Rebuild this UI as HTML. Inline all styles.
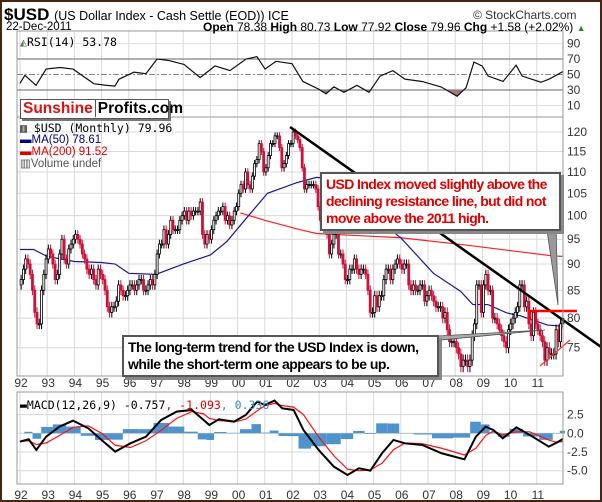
<!DOCTYPE html>
<html><head><meta charset="utf-8">
<style>
body{margin:0;padding:0;background:#fff;}
#wrap{position:relative;width:598px;height:498px;border:2px solid #4a2410;background:#fff;overflow:hidden;font-family:"Liberation Sans",sans-serif;}
svg{position:absolute;left:-2px;top:-2px;}
.txt{position:absolute;white-space:nowrap;}
.callout{position:absolute;background:#fff;border:2px solid #555;box-shadow:3px 3px 0 #888;font-weight:bold;font-size:14px;line-height:17px;padding:2px 4px;white-space:nowrap;letter-spacing:-0.6px;}
</style></head>
<body>
<div id="wrap">
<svg id="chart" width="602" height="502" xmlns="http://www.w3.org/2000/svg"></svg>
<div class="txt" style="left:2px;top:3px;font-size:17px;font-weight:bold;">$USD <span style="font-size:12.5px;font-weight:normal">(US Dollar Index - Cash Settle (EOD)) ICE</span></div>
<div class="txt" style="left:471px;top:6px;font-size:12px;color:#333">© StockCharts.com</div>
<div class="txt" style="left:4px;top:19px;font-size:11.5px">22-Dec-2011</div>
<div class="txt" style="left:201px;top:18px;font-size:12px"><b>Open</b> 78.38 <b>High</b> 80.73 <b>Low</b> 77.92 <b>Close</b> 79.96 <b>Chg</b> +1.58 (+2.02%) <span style="color:#2a8a2a;font-size:9px">▲</span></div>
<div class="txt" style="left:18px;top:33px;font-size:11.5px;font-family:'DejaVu Sans Mono',monospace"><span style="color:#4a7a4a">◭</span>RSI(14) 53.78</div>
<div class="txt" style="left:18px;top:97px;width:147px;height:18px;border:1px solid #555;box-shadow:2px 2px 0 #777;background:#fff;font-weight:bold;font-size:15.5px;line-height:18px"><span style="color:#e01010;padding-left:2px">Sunshine</span><span style="border-left:1px solid #555;padding-left:2px;margin-left:2px">Profits.com</span></div>
<div class="txt" style="left:18px;top:121px;font-size:11.5px;line-height:11px;font-family:'DejaVu Sans Mono',monospace">▥ $USD (Monthly) 79.96<br><span style="color:#000080;font-family:'Liberation Sans',sans-serif">▬MA(50) 78.61</span><br><span style="color:#e00000;font-family:'Liberation Sans',sans-serif">▬MA(200) 91.52</span><br><span style="color:#555;font-family:'Liberation Sans',sans-serif">▥Volume undef</span></div>
<div class="callout" style="left:318px;top:170px;width:229px;color:#e00000">USD Index moved slightly above the<br>declining resistance line, but did not<br>move above the 2011 high.</div>
<div class="callout" style="left:120px;top:333px;width:305px;color:#000;letter-spacing:-0.5px">The long-term trend for the USD Index is down,<br>while the short-term one appears to be up.</div>
<div class="txt" style="left:18px;top:396px;font-size:11.5px;font-family:'DejaVu Sans Mono',monospace">▬MACD(12,26,9) -0.757<span style="color:#e00000">, -1.093</span><span style="color:#3a8ac8">, 0.336</span></div>
</div>
<script>
// ---- data ----
const closes1992 = [87,89,91,90,88,85,81,79,79,85,88,91];
const closes1993 = [93,92,90,87,88,92,95,91,90,93,94,95];
const closes1994 = [96,95,94,92,91,89,88,89,87,86,89,88];
const closes1995 = [87,85,82,81,82,82,83,86,85,84,84,85];
const closes1996 = [86,86,85,86,87,87,85,85,86,87,86,88];
const closes1997 = [92,94,94,97,94,96,99,97,97,97,99,100];
const closes1998 = [101,99,101,100,101,101,101,103,96,94,96,95];
const closes1999 = [97,99,100,101,101,102,99,100,98,99,101,102];
const closes2000 = [105,107,106,110,107,106,109,112,113,117,115,110];
const closes2001 = [111,114,117,117,119,119,116,111,112,114,117,117];
const closes2002 = [120,119,118,116,111,106,107,107,107,107,106,102];
const closes2003 = [99,100,99,96,92,94,96,97,92,92,90,87];
const closes2004 = [87,89,89,91,89,88,89,89,88,85,81,81];
const closes2005 = [84,82,84,84,87,89,89,87,89,90,91,90];
const closes2006 = [89,90,90,86,85,86,85,85,86,86,83,84];
const closes2007 = [85,84,83,82,82,82,80,81,78,76,76,76];
const closes2008 = [75,74,72,73,73,72,73,77,79,86,86,81];
const closes2009 = [86,88,85,85,80,80,79,78,77,76,75,78];
const closes2010 = [79,80,81,82,86,86,82,83,79,77,81,79];
const closes2011 = [78,77,76,73,75,74,74,74,78,76,79,79.96];
const ma50Dates = [1992,1992.5,1993,1994,1995,1995.5,1996,1997,1998,1999,1999.6,2000.4,2001.1,2002.2,2002.9,2003.3,2004,2005,2005.5,2006,2007.2,2008.2,2008.65,2009.2,2009.9,2010.4,2011.4,2011.96];
const ma50Vals = [92.9,92.9,91.5,90.5,90.3,90.0,88.2,88.0,90.0,91.8,94.5,100,105,107.5,108.7,108.5,104,100,97.5,95.3,88.2,84.8,82.4,82.4,80.9,80.4,78.8,78.61];
const ma200Dates = [2000.1,2001.0,2002.3,2002.9,2006.0,2008.4,2011.6,2011.96];
const ma200Vals = [100.6,99.0,97.0,96.2,95.3,93.8,91.6,91.52];
const rsiDates = [1992,1992.18,1992.59,1992.96,1993.47,1993.95,1994.72,1995.2,1995.49,1995.64,1996.19,1996.63,1997.04,1997.48,1998.03,1998.62,1999.17,1999.72,2000.31,2000.71,2001.01,2001.41,2002.0,2002.4,2002.99,2003.25,2003.54,2003.91,2004.39,2004.83,2005.24,2005.71,2006.15,2006.78,2007.48,2008.07,2008.4,2008.69,2008.99,2009.21,2009.76,2010.24,2010.46,2011.15,2011.45,2011.96];
const rsiVals = [38.6,49,36,57,59,57,38,36,35,44,53,51,70,68,63,46,61,55,70,73,57,67,64,41,31,25,34,27,36,27,48,55,44,41,34,22,33,66,61,48,41,62,48,40,44,53.78];
const macdDates = [1992.0,1992.32,1992.6,1992.96,1993.45,1993.95,1994.51,1995.0,1995.5,1996.06,1996.63,1997.19,1997.76,1998.32,1998.75,1998.96,1999.31,1999.87,2000.3,2000.72,2001.0,2001.36,2001.64,2002.06,2002.42,2002.98,2003.54,2004.04,2004.46,2004.88,2005.31,2005.73,2006.15,2006.79,2007.5,2008.34,2008.76,2009.12,2009.4,2009.75,2010.25,2010.74,2011.44,2011.73,2011.96];
const macdVals = [-1.11,-0.8,-2.23,-0.45,0.89,1.69,0.67,-0.89,-2.45,-1.34,-0.45,1.78,2.9,3.12,1.78,1.11,1.87,1.56,2.45,4.23,3.79,4.37,3.34,3.12,0.45,-2.23,-4.46,-5.57,-4.68,-4.99,-2.67,-0.89,-1.34,-1.56,-2.67,-3.48,-0.45,0.89,0.45,-0.67,0.8,-0.22,-1.78,-1.25,-0.757];
const signalVals = [-1.1,-1.0,-1.5,-1.3,-0.3,0.8,1.0,0.0,-1.6,-1.9,-1.0,0.4,2.0,2.9,2.6,2.0,1.7,1.5,1.9,3.0,3.7,4.0,3.7,3.5,2.5,-0.5,-3.0,-4.8,-5.0,-4.9,-4.0,-2.2,-1.3,-1.4,-2.0,-2.9,-2.0,-0.3,0.3,-0.2,0.2,0.2,-0.9,-1.2,-1.093];
const yearLabels = ['92','93','94','95','96','97','98','99','00','01','02','03','04','05','06','07','08','09','10','11'];
const priceTicks = [120,115,110,105,100,95,90,85,80,75];
const rsiTicks = [90,70,50,30,10];
const macdTicks = [2.5,0,-2.5,-5];
const macdTickLabels = ['2.5','0.0','-2.5','-5.0'];

// ---- scales ----
const L=17, R=563;
const X = t => 20 + (t-1992)*27.2;
const PY = p => 132 + 459*Math.log(120/p);
const RY = v => 43.5 + (90-v)*0.775;
const MY = v => 433.3 - v*7.48;
const NS='http://www.w3.org/2000/svg';
const svg=document.getElementById('chart');
function mk(tag,attrs,parent){const e=document.createElementNS(NS,tag);for(const k in attrs)e.setAttribute(k,attrs[k]);(parent||svg).appendChild(e);return e;}
function txt(x,y,s,size,anchor,fill){const e=mk('text',{x:x,y:y,'font-size':size,'text-anchor':anchor||'start',fill:fill||'#333','font-family':'Liberation Sans, sans-serif'});e.textContent=s;return e;}

const panels=[[31,117],[117,376],[392,484]];
panels.forEach((p,pi)=>{
  for(let y=1992;y<=2011;y++){const l=mk('line',{x1:X(y),x2:X(y),y1:p[0],y2:p[1],stroke:'#d8d8d8','stroke-width':1});
  
  }
});
priceTicks.forEach(v=>{const l=mk('line',{x1:L,x2:R,y1:PY(v),y2:PY(v),stroke:'#d8d8d8'});
 
 
 const t=txt(567,PY(v)+4,String(v),12);
 
 });
rsiTicks.forEach(v=>{
 const strong=(v===70||v===30);
 const l=mk('line',{x1:L,x2:R,y1:RY(v),y2:RY(v),stroke:strong?'#666':(v===50?'#888':'#e0e0e0'),'stroke-dasharray':v===50?'6,2,2,2':'none'});
 
 
 const t=txt(567,RY(v)+4,String(v),12);
 
 });
macdTicks.forEach((v,i)=>{const l=mk('line',{x1:L,x2:R,y1:MY(v),y2:MY(v),stroke:'#d8d8d8'});
 
 
 const t=txt(567,MY(v)+4,macdTickLabels[i],12);
 
 });
yearLabels.forEach((s,i)=>{[383,495].forEach(y=>{const t=txt(X(1992+i)+1,y+4,s,12,'middle');
 
 });});

// RSI
const rsiPts=rsiDates.map((d,i)=>X(d)+','+RY(rsiVals[i])).join(' ');
const cp=mk('clipPath',{id:'below30'});mk('rect',{x:L,y:RY(30),width:R-L,height:40},cp);
const rf=mk('polygon',{points:rsiPts+' '+X(2011.96)+','+RY(30)+' '+X(1992)+','+RY(30),fill:'#a07878','clip-path':'url(#below30)'});


const rl=mk('polyline',{points:rsiPts,fill:'none',stroke:'#111','stroke-width':1.2});



// MAs
const m200=mk('polyline',{points:ma200Dates.map((d,i)=>X(d)+','+PY(ma200Vals[i])).join(' '),fill:'none',stroke:'#ff2020','stroke-width':1.2});


const m50=mk('polyline',{points:ma50Dates.map((d,i)=>X(d)+','+PY(ma50Vals[i])).join(' '),fill:'none',stroke:'#1a1a9a','stroke-width':1.2});



// candles
const closes=[].concat(closes1992,closes1993,closes1994,closes1995,closes1996,closes1997,closes1998,closes1999,closes2000,closes2001,closes2002,closes2003,closes2004,closes2005,closes2006,closes2007,closes2008,closes2009,closes2010,closes2011);
closes.forEach((c,i)=>{
 const o=i?closes[i-1]:c-1;
 const up=c>=o;
 const hi=Math.max(o,c)+0.9, lo=Math.min(o,c)-0.9;
 const x=X(1992+(i+0.5)/12);
 const col=up?'#000':'#d0103a';
 const w=mk('line',{x1:x,x2:x,y1:PY(hi),y2:PY(lo),stroke:col,'stroke-width':1});
 
 
 const top=PY(Math.max(o,c)),bot=PY(Math.min(o,c));
 const b=mk('rect',{x:x-1,y:top,width:2,height:Math.max(1,bot-top),fill:up?'#fff':col,stroke:col,'stroke-width':0.8});
 
 
});

// annotations
const tl=mk('line',{x1:290,y1:127,x2:604,y2:349,stroke:'#000','stroke-width':2.5});


const hl=mk('polyline',{points:'530,320 530,311 577,311',fill:'none',stroke:'#ff0000','stroke-width':2.5});


const sl=mk('line',{x1:540,y1:366,x2:570,y2:340,stroke:'#ff3030','stroke-width':1.2});


const p1=mk('polygon',{points:'546,224 556,224 558,305',fill:'#999',stroke:'#555','stroke-width':0.8});


const p2=mk('polygon',{points:'420,337 545,330 420,342',fill:'#aaa',stroke:'#555','stroke-width':0.8});



// MACD
const hist=macdVals.map((v,i)=>v-signalVals[i]);
macdDates.forEach((d,i)=>{
 const x0=i?(X(macdDates[i-1])+X(d))/2:X(d);
 const x1=i<macdDates.length-1?(X(d)+X(macdDates[i+1]))/2:X(d)+2;
 const y0=MY(0),y1=MY(hist[i]);
 const r=mk('rect',{x:x0,y:Math.min(y0,y1),width:Math.max(1,x1-x0),height:Math.abs(y1-y0),fill:'#4f93cc'});
 
 
});
const sg=mk('polyline',{points:macdDates.map((d,i)=>X(d)+','+MY(signalVals[i])).join(' '),fill:'none',stroke:'#ff1010','stroke-width':1.2});


const ml=mk('polyline',{points:macdDates.map((d,i)=>X(d)+','+MY(macdVals[i])).join(' '),fill:'none',stroke:'#000','stroke-width':2});



panels.forEach(p=>{const r=mk('rect',{x:L,y:p[0],width:R-L,height:p[1]-p[0],fill:'none',stroke:'#999'});
 
 });
</script>
</body></html>
